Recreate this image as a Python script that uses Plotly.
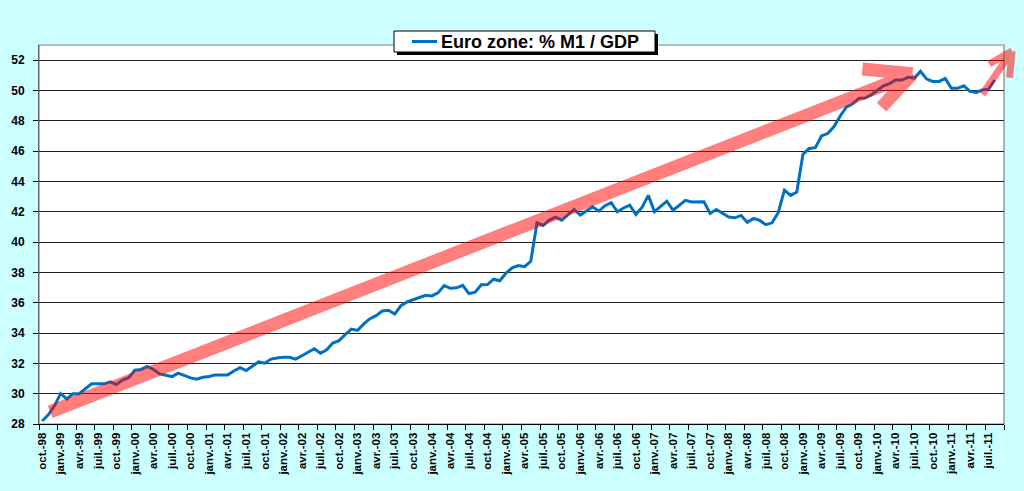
import plotly.graph_objects as go

# ---------------- data ----------------
MONTH_NAMES = ["janv.", "févr.", "mars", "avr.", "mai", "juin",
               "juil.", "août", "sept.", "oct.", "nov.", "déc."]

# monthly categories: oct.-98 .. sept.-11
months = []
y, m = 1998, 9
for _ in range(156):
    months.append(f"{MONTH_NAMES[m]}-{str(y)[2:]}")
    m += 1
    if m == 12:
        m, y = 0, y + 1

m1_gdp = [
    28.2, 28.6, 29.2, 30.0, 29.65, 30.0, 30.0, 30.3, 30.65, 30.65,
    30.65, 30.78, 30.6, 30.9, 31.05, 31.55, 31.6, 31.8, 31.6, 31.3,
    31.22, 31.13, 31.35, 31.17, 31.04, 30.95, 31.08, 31.13, 31.24, 31.24,
    31.24, 31.5, 31.72, 31.53, 31.79, 32.1, 32.01, 32.28, 32.35, 32.41,
    32.4, 32.28, 32.5, 32.75, 32.96, 32.67, 32.9, 33.34, 33.5, 33.9,
    34.26, 34.17, 34.6, 34.95, 35.15, 35.45, 35.5, 35.25, 35.8, 36.05,
    36.2, 36.3, 36.49, 36.45, 36.65, 37.13, 36.95, 36.98, 37.15, 36.6,
    36.7, 37.19, 37.2, 37.55, 37.45, 37.95, 38.3, 38.45, 38.38, 38.73,
    41.27, 41.1, 41.45, 41.65, 41.45, 41.8, 42.15, 41.78, 42.05, 42.33,
    42.04, 42.4, 42.6, 42.0, 42.25, 42.44, 41.82, 42.3, 43.08, 42.0,
    42.35, 42.7, 42.1, 42.45, 42.75, 42.64, 42.66, 42.66, 41.89, 42.15,
    41.9, 41.65, 41.6, 41.76, 41.31, 41.56, 41.43, 41.15, 41.27, 41.94,
    43.43, 43.08, 43.3, 45.79, 46.17, 46.23, 47.0, 47.16, 47.6, 48.3,
    48.9, 49.1, 49.48, 49.5, 49.7, 50.0, 50.3, 50.45, 50.69, 50.69,
    50.87, 50.82, 51.26, 50.75, 50.6, 50.6, 50.8, 50.14, 50.14, 50.31,
    49.94, 49.87, 50.04, 50.09, 50.69,
]

series_name = "Euro zone: % M1 / GDP"

x_idx = list(range(len(m1_gdp)))
tick_idx = list(range(0, 156, 3))
tick_text = [months[i] for i in tick_idx]

Y_MIN, Y_MAX = 28, 53
X_MIN, X_MAX = -0.5, 155.5

# arrows (data coords: month index, value)
main_arrow = dict(tail=(1.3, 28.8), tip=(140.7, 51.1),
                  barb1=(132.6, 51.42), barb2=(135.7, 48.9))
small_arrow = dict(tail=(152.0, 49.75), tip=(156.8, 52.6),
                   barb1=(153.1, 51.75), barb2=(156.4, 50.85))

# layout geometry (pixels)
W, H = 1024, 491
ML, MR, MT, MB = 39, 20, 45, 67
PW, PH = W - ML - MR, H - MT - MB


def to_paper(pt):
    xm, yv = pt
    return ((xm - X_MIN) / (X_MAX - X_MIN), (yv - Y_MIN) / (Y_MAX - Y_MIN))


def px_x(p):
    return (p - ML) / PW


def px_y(p):
    return (H - MB - p) / PH


def arrow_path(a):
    t = to_paper(a["tip"])
    parts = []
    for k in ("tail", "barb1", "barb2"):
        p = to_paper(a[k])
        parts.append(f"M{p[0]:.5f},{p[1]:.5f} L{t[0]:.5f},{t[1]:.5f}")
    return " ".join(parts)


fig = go.Figure()
fig.add_trace(go.Scatter(
    x=x_idx, y=m1_gdp, mode="lines", name=series_name,
    line=dict(color="#0070C0", width=3), showlegend=False,
))

shapes = [
    # plot border
    dict(type="rect", xref="paper", yref="paper", x0=0, x1=1, y0=0, y1=1,
         line=dict(color="#808080", width=1.2), layer="below"),
    # main red arrow
    dict(type="path", xref="paper", yref="paper", path=arrow_path(main_arrow),
         line=dict(color="#FF0000", width=13), opacity=0.5, layer="above"),
    # small red arrow
    dict(type="path", xref="paper", yref="paper", path=arrow_path(small_arrow),
         line=dict(color="#FF0000", width=7), opacity=0.5, layer="above"),
    # legend shadow
    dict(type="rect", xref="paper", yref="paper",
         x0=px_x(397), x1=px_x(658), y0=px_y(55), y1=px_y(34),
         fillcolor="#000000", line=dict(width=0), layer="above"),
    # legend box
    dict(type="rect", xref="paper", yref="paper",
         x0=px_x(394), x1=px_x(655), y0=px_y(52), y1=px_y(31),
         fillcolor="#FFFFFF", line=dict(color="#000000", width=1), layer="above"),
    # legend line symbol
    dict(type="line", xref="paper", yref="paper",
         x0=px_x(412), x1=px_x(437), y0=px_y(41.5), y1=px_y(41.5),
         line=dict(color="#0070C0", width=3), layer="above"),
]

annotations = [
    dict(xref="paper", yref="paper", x=px_x(439), y=px_y(41.5),
         xanchor="left", yanchor="middle", showarrow=False,
         text=f"<b>{series_name}</b>",
         font=dict(size=18, family="Liberation Sans, Arial, sans-serif",
                   color="#000000")),
]

fig.update_layout(
    width=W, height=H,
    paper_bgcolor="#CCFFFF", plot_bgcolor="#FFFFFF",
    margin=dict(l=ML, r=MR, t=MT, b=MB),
    font=dict(family="Liberation Sans, Arial, sans-serif", color="#000000"),
    showlegend=False,
    shapes=shapes,
    annotations=annotations,
    xaxis=dict(
        range=[X_MIN, X_MAX], tickmode="array", tickvals=tick_idx,
        ticktext=tick_text, tickangle=-90, ticks="",
        tickfont=dict(size=11.5, weight="bold"),
        showgrid=False, zeroline=False,
        showline=True, linecolor="#000000", linewidth=1,
        minor=dict(tickmode="array",
                   tickvals=[i - 0.5 for i in range(0, 157, 3)],
                   ticks="outside", ticklen=5, tickcolor="#000000",
                   showgrid=False),
        ticklabelstandoff=3,
    ),
    yaxis=dict(
        range=[Y_MIN, Y_MAX], tick0=28, dtick=2, tickmode="linear",
        ticks="outside", ticklen=5, tickcolor="#000000",
        tickfont=dict(size=12, weight="bold"),
        showgrid=True, gridcolor="#202020", gridwidth=1,
        zeroline=False, showline=True, linecolor="#606060", linewidth=1,
        ticklabelstandoff=6,
    ),
)

fig.write_html(
    "out.html",
    config={"displayModeBar": False},
    post_script="document.body.style.margin='0';document.body.style.background='#CCFFFF';",
)
